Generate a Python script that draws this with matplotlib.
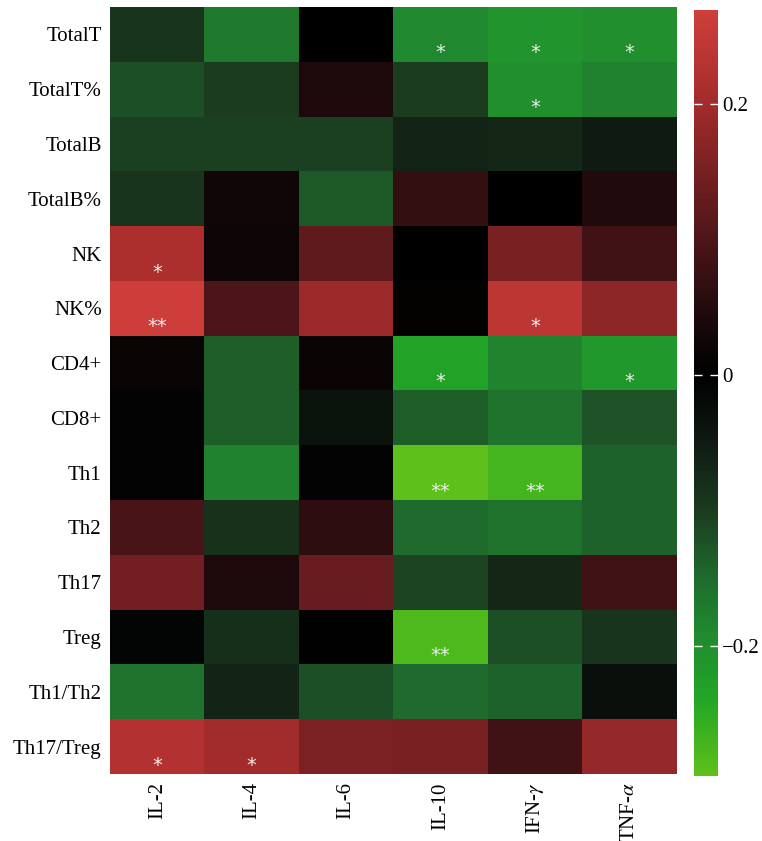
import matplotlib
matplotlib.use("Agg")

import numpy as np
import matplotlib.pyplot as plt
from matplotlib.colors import LinearSegmentedColormap, Normalize

plt.rcParams["font.family"] = ["Liberation Serif", "DejaVu Serif"]
plt.rcParams["mathtext.fontset"] = "stix"

# rows / columns of the correlation heatmap
rows = ["TotalT", "TotalT%", "TotalB", "TotalB%", "NK", "NK%", "CD4+", "CD8+",
        "Th1", "Th2", "Th17", "Treg", "Th1/Th2", "Th17/Treg"]
cols = ["IL-2", "IL-4", "IL-6", "IL-10", r"IFN-$\gamma$", r"TNF-$\alpha$"]

# correlation coefficients
vals_il2  = [-0.09, -0.12, -0.105, -0.09, 0.215, 0.265, 0.015, -0.005, -0.005, 0.095, 0.145, -0.01, -0.16, 0.225]
vals_il4  = [-0.17, -0.10, -0.105, 0.025, 0.02, 0.10, -0.135, -0.135, -0.18, -0.085, 0.04, -0.08, -0.065, 0.20]
vals_il6  = [0.0, 0.04, -0.105, -0.13, 0.12, 0.19, 0.015, -0.035, -0.005, 0.06, 0.13, 0.003, -0.12, 0.155]
vals_il10 = [-0.19, -0.10, -0.065, 0.07, 0.0, 0.005, -0.235, -0.135, -0.295, -0.15, -0.11, -0.28, -0.15, 0.15]
vals_ifn  = [-0.21, -0.20, -0.07, 0.0, 0.15, 0.24, -0.185, -0.16, -0.27, -0.16, -0.07, -0.12, -0.14, 0.085]
vals_tnf  = [-0.20, -0.18, -0.05, 0.045, 0.085, 0.175, -0.215, -0.125, -0.14, -0.14, 0.085, -0.09, -0.03, 0.185]

# significance marks
stars_il2  = ["", "", "", "", "*", "**", "", "", "", "", "", "", "", "*"]
stars_il4  = ["", "", "", "", "", "", "", "", "", "", "", "", "", "*"]
stars_il6  = [""] * 14
stars_il10 = ["*", "", "", "", "", "", "*", "", "**", "", "", "**", "", ""]
stars_ifn  = ["*", "*", "", "", "", "*", "", "", "**", "", "", "", "", ""]
stars_tnf  = ["*", "", "", "", "", "", "*", "", "", "", "", "", "", ""]

data = np.array([vals_il2, vals_il4, vals_il6, vals_il10, vals_ifn, vals_tnf]).T
stars = np.array([stars_il2, stars_il4, stars_il6, stars_il10, stars_ifn, stars_tnf]).T

vmin, vmax = -0.296, 0.269
anchors = [
    (-0.296, "#5EC01A"),
    (-0.24, "#22A526"),
    (-0.2, "#218F2E"),
    (-0.15, "#1E6B2D"),
    (-0.1, "#1B3B1F"),
    (-0.05, "#0F1A12"),
    (0.0, "#000000"),
    (0.03, "#140708"),
    (0.1, "#4C1519"),
    (0.2, "#A22B2B"),
    (0.269, "#CE3E3A"),
]
cmap = LinearSegmentedColormap.from_list(
    "gkr", [((v - vmin) / (vmax - vmin), c) for v, c in anchors])
norm = Normalize(vmin=vmin, vmax=vmax)

fig = plt.figure(figsize=(7.62, 8.41), dpi=100)
ax = fig.add_axes([0.1444, 0.0797, 0.7436, 0.912])
mesh = ax.pcolormesh(data, cmap=cmap, norm=norm)
ax.set_xlim(0, len(cols))
ax.set_ylim(len(rows), 0)

for i in range(len(rows)):
    for j in range(len(cols)):
        if stars[i, j]:
            ax.text(j + 0.5, i + 0.84, stars[i, j], ha="center", va="center",
                    color="#EDEDED", fontsize=14, family="DejaVu Sans")

ax.set_xticks(np.arange(len(cols)) + 0.5)
ax.set_xticklabels(cols, rotation=90, fontsize=15)
ax.set_yticks(np.arange(len(rows)) + 0.5)
ax.set_yticklabels(rows, fontsize=15)
ax.tick_params(length=0, pad=6)
for s in ax.spines.values():
    s.set_visible(False)

cax = fig.add_axes([0.9108, 0.0773, 0.0315, 0.9107])
cb = fig.colorbar(mesh, cax=cax, ticks=[-0.2, 0, 0.2])
cb.ax.set_yticklabels(["\u22120.2", "0", "0.2"], fontsize=15)
cb.ax.tick_params(direction="in", color="white", length=6, width=1,
                  left=True, right=True, pad=3)
cb.outline.set_visible(False)

fig.savefig("out.png", dpi=100)
